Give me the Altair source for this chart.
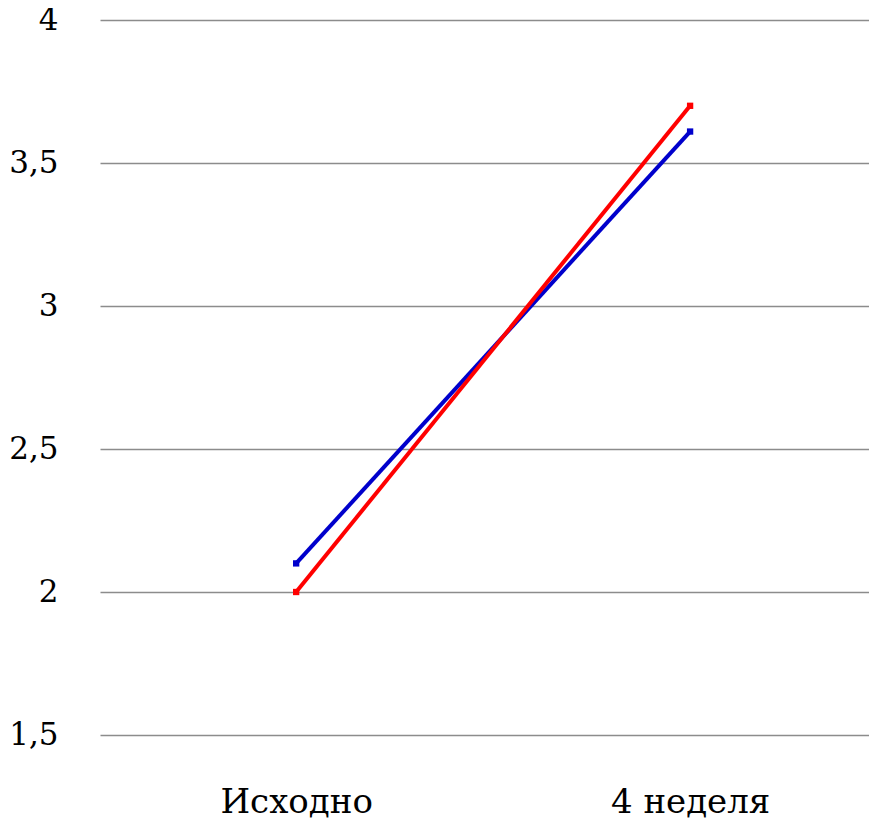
import altair as alt
import pandas as pd

categories = ["Исходно", "4 неделя"]
series_names = ["Группа 1", "Группа 2"]
blue_values = [2.1, 3.61]
red_values = [2.0, 3.7]
colors = ["#0000CC", "#FF0000"]

rows = []
for name, vals in zip(series_names, [blue_values, red_values]):
    for i, (c, v) in enumerate(zip(categories, vals)):
        rows.append({"period": c, "value": v, "series": name, "order": i})
df = pd.DataFrame(rows)

FONT = "DejaVu Serif"

x_enc = alt.X(
    "period:N",
    sort=categories,
    scale=alt.Scale(type="point", padding=0.476, align=0.523),
    axis=alt.Axis(
        title=None, labelAngle=0, domain=False, ticks=False, grid=False,
        labelFontSize=34, labelColor="#000000",
        labelPadding=50,
    ),
)
y_enc = alt.Y(
    "value:Q",
    scale=alt.Scale(domain=[1.5, 4], nice=False, zero=False),
    axis=alt.Axis(
        title=None, values=[1.5, 2, 2.5, 3, 3.5, 4], domain=False, ticks=False,
        grid=True, gridColor="#8c8c8c", gridWidth=1.5,
        labelFontSize=31, labelColor="#000000",
        labelPadding=42,
        labelExpr="replace(format(datum.value, '.1~f'), '.', ',')",
    ),
)
color_enc = alt.Color(
    "series:N", sort=series_names,
    scale=alt.Scale(domain=series_names, range=colors), legend=None,
)

base = alt.Chart(df).encode(x=x_enc, y=y_enc, color=color_enc, detail="series:N")
lines = base.mark_line(strokeWidth=4).encode(order="order:Q")
points = base.mark_point(shape="square", filled=True, size=40, opacity=1)

chart = (
    alt.layer(lines, points)
    .properties(
        width=769, height=715,
        autosize=alt.AutoSizeParams(type="none"),
        padding={"left": 92, "top": 12, "right": 0, "bottom": 96},
    )
    .configure(background="#ffffff", font=FONT)
    .configure_view(stroke="transparent", strokeWidth=0)
    .configure_axis(labelFont=FONT, domain=False)
    .configure_axisX(grid=False)
)

chart.save("out.html", embed_options={"renderer": "svg", "actions": False})
